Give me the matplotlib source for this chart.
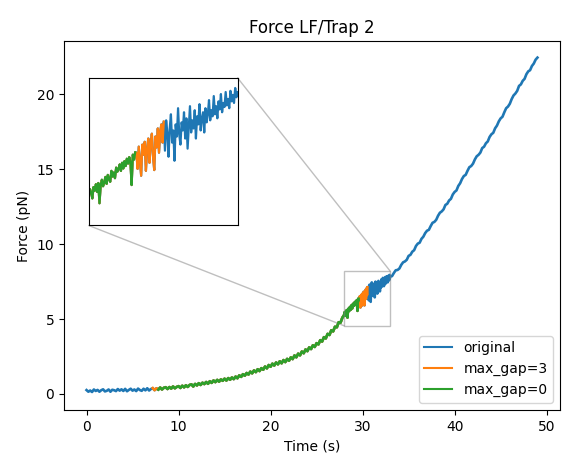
import numpy as np
import matplotlib
matplotlib.use("Agg")
import matplotlib.pyplot as plt
from matplotlib.patches import ConnectionPatch

# sampling grid (s): coarse, fine (zoom window), coarse
time_s = np.concatenate([
    np.round(np.arange(0.0, 27.9, 0.2), 2),
    np.round(np.arange(28.0, 32.99, 0.04), 2),
    np.round(np.arange(33.0, 49.01, 0.2), 2),
])

force_a = [
    0.26, 0.15, 0.23, 0.13, 0.30, 0.20, 0.27, 0.15, 0.25, 0.31,
    0.17, 0.21, 0.30, 0.15, 0.28, 0.25, 0.19, 0.33, 0.22, 0.31,
    0.20, 0.34, 0.18, 0.27, 0.35, 0.22, 0.30, 0.19, 0.36, 0.26,
    0.21, 0.35, 0.24, 0.38, 0.23, 0.33, 0.39, 0.25, 0.38, 0.29,
    0.43, 0.30, 0.41, 0.45, 0.33, 0.46, 0.36, 0.50, 0.38, 0.47,
    0.52, 0.40, 0.55, 0.44, 0.58, 0.47, 0.60, 0.64, 0.50, 0.67,
    0.57, 0.72, 0.60, 0.75, 0.66, 0.80, 0.68, 0.85, 0.74, 0.90,
    0.79, 0.94, 0.82, 0.97, 0.88, 1.02, 0.90, 1.06, 0.95, 1.10,
    0.99, 1.16, 1.05, 1.24, 1.14, 1.32, 1.22, 1.40, 1.30, 1.49,
    1.38, 1.57, 1.46, 1.65, 1.53, 1.72, 1.62, 1.83, 1.71, 1.93,
    1.82, 2.02, 1.90, 2.10, 1.98, 2.18, 2.05, 2.26, 2.13, 2.34,
    2.22, 2.44, 2.33, 2.57, 2.45, 2.69, 2.58, 2.83, 2.72, 2.97,
    2.86, 3.11, 3.00, 3.25, 3.14, 3.39, 3.31, 3.59, 3.50, 3.79,
    3.71, 4.01, 3.94, 4.25, 4.18, 4.49, 4.45, 4.79, 4.76, 5.09,
]
force_b = [
    5.28, 5.45, 5.36, 5.22, 5.50, 5.41, 5.57, 5.38, 5.60, 5.10,
    5.55, 5.68, 5.52, 5.62, 5.75, 5.58, 5.80, 5.70, 5.63, 5.90,
    5.76, 5.86, 5.72, 5.98, 5.88, 5.95, 6.06, 5.90, 6.10, 5.96,
    6.14, 6.02, 6.20, 6.08, 6.24, 6.12, 5.55, 6.30, 6.18, 6.36,
    6.35, 5.95, 6.50, 6.15, 5.78, 6.55, 6.30, 6.62, 5.90, 6.45,
    6.70, 6.10, 6.58, 6.82, 6.25, 5.92, 6.75, 6.48, 6.95, 6.35,
    6.88, 7.05, 6.60, 7.12, 6.40, 7.15, 6.85, 6.25, 6.95, 7.30,
    6.60, 6.90, 6.15, 7.05, 6.75, 7.45, 6.80, 6.55, 7.10, 6.90,
    7.35, 6.70, 7.20, 6.45, 7.00, 7.50, 6.85, 7.15, 6.95, 7.40,
    6.70, 7.25, 7.05, 7.55, 6.90, 7.20, 7.35, 6.85, 7.45, 7.10,
    7.30, 7.65, 7.15, 7.40, 7.25, 7.75, 7.30, 7.50, 7.20, 7.62,
    7.42, 7.80, 7.35, 7.58, 7.48, 7.85, 7.52, 7.68, 7.45, 7.88,
    7.62, 7.78, 7.58, 7.95, 7.72,
]
force_c = [
    7.85, 7.87, 8.08, 8.26, 8.28, 8.38, 8.62, 8.79, 8.85, 8.96,
    9.22, 9.29, 9.50, 9.60, 9.88, 10.04, 10.10, 10.36, 10.50, 10.74,
    10.90, 10.96, 11.21, 11.43, 11.49, 11.63, 11.90, 12.10, 12.19, 12.33,
    12.62, 12.70, 12.92, 13.03, 13.32, 13.49, 13.59, 13.89, 14.07, 14.35,
    14.55, 14.63, 14.90, 15.14, 15.22, 15.38, 15.66, 15.87, 15.97, 16.12,
    16.42, 16.51, 16.74, 16.86, 17.16, 17.34, 17.44, 17.74, 17.92, 18.20,
    18.40, 18.51, 18.81, 19.08, 19.19, 19.38, 19.69, 19.93, 20.06, 20.24,
    20.57, 20.67, 20.91, 21.04, 21.35, 21.54, 21.62, 21.90, 22.06, 22.32,
    22.46,
]
force_pN = np.array(force_a + force_b + force_c)

# time windows kept by each gap setting
gap3_window = (7.2, 30.54)
gap0_window = (7.7, 29.58)

series_labels = ["original", "max_gap=3", "max_gap=0"]
zoom_xlim = (28.0, 33.0)
zoom_ylim = (4.55, 8.2)

fig = plt.figure(figsize=(5.8, 4.63), dpi=100)
ax = fig.add_axes([0.1103, 0.1145, 0.8552, 0.797])

m3 = (time_s >= gap3_window[0]) & (time_s <= gap3_window[1])
m0 = (time_s >= gap0_window[0]) & (time_s <= gap0_window[1])

def draw(a, lw):
    a.plot(time_s, force_pN, color="C0", lw=lw, label=series_labels[0])
    a.plot(time_s[m3], force_pN[m3], color="C1", lw=lw, label=series_labels[1])
    a.plot(time_s[m0], force_pN[m0], color="C2", lw=lw, label=series_labels[2])

draw(ax, 1.9)
ax.set_xlim(-2.45, 51.45)
ax.set_ylim(-1.07, 23.57)
ax.set_title("Force LF/Trap 2")
ax.set_xlabel("Time (s)")
ax.set_ylabel("Force (pN)")
leg = ax.legend(loc="lower right")
for h in leg.get_lines():
    h.set_linewidth(1.5)

axins = ax.inset_axes([0.05, 0.5, 0.30, 0.40])
draw(axins, 1.6)
axins.set_xlim(*zoom_xlim)
axins.set_ylim(*zoom_ylim)
axins.set_xticks([])
axins.set_yticks([])

# zoom rectangle (no automatic connectors)
ax.indicate_inset((zoom_xlim[0], zoom_ylim[0],
                   zoom_xlim[1] - zoom_xlim[0], zoom_ylim[1] - zoom_ylim[0]),
                  edgecolor="0.5", alpha=0.5)
for corner_ax, corner_data in [((1, 1), (zoom_xlim[1], zoom_ylim[1])),
                               ((0, 0), (zoom_xlim[0], zoom_ylim[0]))]:
    con = ConnectionPatch(xyA=corner_ax, coordsA=axins.transAxes,
                          xyB=corner_data, coordsB=ax.transData,
                          arrowstyle="-", edgecolor="0.5", alpha=0.5)
    ax.add_artist(con)

fig.savefig("out.png", dpi=100)
